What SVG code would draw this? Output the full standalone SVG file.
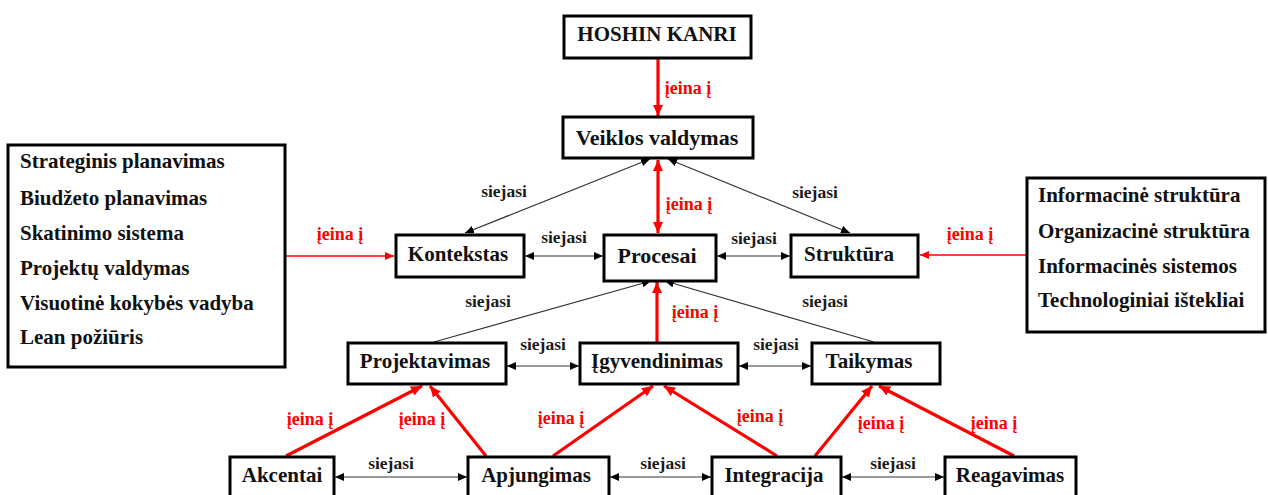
<svg xmlns="http://www.w3.org/2000/svg" width="1268" height="495" viewBox="0 0 1268 495">
<style>
.box{fill:#fff;stroke:#000;stroke-width:3}
.t{font-family:"Liberation Serif","Times New Roman",serif;font-weight:bold;font-size:21px;fill:#111;text-anchor:middle}
.big{font-size:22px}
.l{font-family:"Liberation Serif","Times New Roman",serif;font-weight:bold;font-size:21px;fill:#111}
.s{font-family:"Liberation Serif","Times New Roman",serif;font-weight:bold;font-size:17.5px;fill:#1a1a1a;text-anchor:middle}
.r{font-family:"Liberation Serif","Times New Roman",serif;font-weight:bold;font-size:18px;fill:#f00;text-anchor:middle}
.bk{stroke:#333;stroke-width:1.2;fill:none;marker-start:url(#ab);marker-end:url(#ab)}
.bk1{stroke:#333;stroke-width:1.2;fill:none;marker-end:url(#ab)}
.rd{stroke:#f00;stroke-width:3.2;fill:none;marker-end:url(#ar)}
.rd2{stroke:#f00;stroke-width:3.2;fill:none;marker-start:url(#ar);marker-end:url(#ar)}
.rt{stroke:#f00;stroke-width:1.4;fill:none;marker-end:url(#art)}
</style>
<defs>
<marker id="ab" markerUnits="userSpaceOnUse" markerWidth="9" markerHeight="8" refX="9" refY="4" orient="auto-start-reverse"><path d="M0,0 L9,4 L0,8 z" fill="#000"/></marker>
<marker id="ar" markerUnits="userSpaceOnUse" markerWidth="11" markerHeight="10" refX="11" refY="5" orient="auto-start-reverse"><path d="M0,0 L11,5 L0,10 z" fill="#f00"/></marker>
<marker id="art" markerUnits="userSpaceOnUse" markerWidth="9" markerHeight="8" refX="9" refY="4" orient="auto-start-reverse"><path d="M0,0 L9,4 L0,8 z" fill="#f00"/></marker>
</defs>

<g id="connectors">
<line class="rd" x1="658" y1="58" x2="658" y2="116"/>
<line class="rd2" x1="658" y1="160" x2="658" y2="233"/>
<line class="bk" x1="650" y1="159" x2="465" y2="233"/>
<line class="bk" x1="668" y1="159" x2="850" y2="233"/>
<line class="rt" x1="286" y1="256" x2="394" y2="256"/>
<line class="rt" x1="1026" y1="255" x2="920" y2="255"/>
<line class="bk" x1="525" y1="256" x2="603" y2="256"/>
<line class="bk" x1="717" y1="256" x2="790" y2="256"/>
<line class="bk1" x1="434" y1="342" x2="651" y2="281"/>
<line class="bk1" x1="874" y1="342" x2="665" y2="281"/>
<line class="rd" x1="657" y1="342" x2="657" y2="282"/>
<line class="bk" x1="507" y1="366" x2="579" y2="366"/>
<line class="bk" x1="739" y1="366" x2="811" y2="366"/>
<line class="rd" x1="286" y1="456" x2="422" y2="386"/>
<line class="rd" x1="486" y1="456" x2="430" y2="386"/>
<line class="rd" x1="553" y1="456" x2="653" y2="386"/>
<line class="rd" x1="777" y1="456" x2="664" y2="386"/>
<line class="rd" x1="815" y1="456" x2="872" y2="386"/>
<line class="rd" x1="1014" y1="456" x2="879" y2="386"/>
<line class="bk" x1="335" y1="477" x2="467" y2="477"/>
<line class="bk" x1="610" y1="477" x2="711" y2="477"/>
<line class="bk" x1="842" y1="477" x2="944" y2="477"/>
<text class="r" x="688" y="94">įeina į</text>
<text class="r" x="689" y="210">įeina į</text>
<text class="s" x="504" y="197">siejasi</text>
<text class="s" x="815" y="198">siejasi</text>
<text class="s" x="564" y="243">siejasi</text>
<text class="s" x="754" y="244">siejasi</text>
<text class="r" x="340" y="240">įeina į</text>
<text class="r" x="970" y="240">įeina į</text>
<text class="s" x="488" y="307">siejasi</text>
<text class="s" x="825" y="307">siejasi</text>
<text class="r" x="695" y="318">įeina į</text>
<text class="s" x="543" y="350">siejasi</text>
<text class="s" x="776" y="350">siejasi</text>
<text class="r" x="310" y="425">įeina į</text>
<text class="r" x="422" y="425">įeina į</text>
<text class="r" x="561" y="424">įeina į</text>
<text class="r" x="760" y="422">įeina į</text>
<text class="r" x="881" y="429">įeina į</text>
<text class="r" x="994" y="429">įeina į</text>
<text class="s" x="391" y="469">siejasi</text>
<text class="s" x="663" y="469">siejasi</text>
<text class="s" x="893" y="469">siejasi</text>
</g>

<g id="n-hoshin"><rect class="box" x="564" y="16" width="187" height="42"/><text class="t" x="657" y="41">HOSHIN KANRI</text></g>
<g id="n-veiklos"><rect class="box" x="563" y="117" width="190" height="41"/><text class="t big" x="657" y="145">Veiklos valdymas</text></g>
<g id="n-left"><rect class="box" x="8" y="145" width="277" height="222"/>
<text class="l" x="20" y="168">Strateginis planavimas</text>
<text class="l" x="20" y="205">Biudžeto planavimas</text>
<text class="l" x="20" y="240">Skatinimo sistema</text>
<text class="l" x="20" y="275">Projektų valdymas</text>
<text class="l" x="20" y="310">Visuotinė kokybės vadyba</text>
<text class="l" x="20" y="344">Lean požiūris</text></g>
<g id="n-kontekstas"><rect class="box" x="396" y="235" width="128" height="42"/><text class="t" x="458" y="261">Kontekstas</text></g>
<g id="n-procesai"><rect class="box" x="604" y="235" width="112" height="46"/><text class="t big" x="657" y="263">Procesai</text></g>
<g id="n-struktura"><rect class="box" x="791" y="235" width="127" height="42"/><text class="t" x="849" y="261">Struktūra</text></g>
<g id="n-right"><rect class="box" x="1027" y="178" width="238" height="154"/>
<text class="l" x="1038" y="202">Informacinė struktūra</text>
<text class="l" x="1038" y="238">Organizacinė struktūra</text>
<text class="l" x="1038" y="273">Informacinės sistemos</text>
<text class="l" x="1038" y="307">Technologiniai ištekliai</text></g>
<g id="n-projektavimas"><rect class="box" x="348" y="343" width="158" height="41"/><text class="t" x="425" y="368">Projektavimas</text></g>
<g id="n-igyvendinimas"><rect class="box" x="580" y="343" width="158" height="41"/><text class="t" x="657" y="368">Įgyvendinimas</text></g>
<g id="n-taikymas"><rect class="box" x="812" y="343" width="128" height="41"/><text class="t" x="869" y="368">Taikymas</text></g>
<g id="n-akcentai"><rect class="box" x="230" y="457" width="104" height="45"/><text class="t" x="282" y="482">Akcentai</text></g>
<g id="n-apjungimas"><rect class="box" x="468" y="457" width="141" height="45"/><text class="t" x="536" y="482">Apjungimas</text></g>
<g id="n-integracija"><rect class="box" x="712" y="457" width="129" height="45"/><text class="t" x="774" y="482">Integracija</text></g>
<g id="n-reagavimas"><rect class="box" x="945" y="457" width="131" height="45"/><text class="t" x="1010" y="482">Reagavimas</text></g>
</svg>
